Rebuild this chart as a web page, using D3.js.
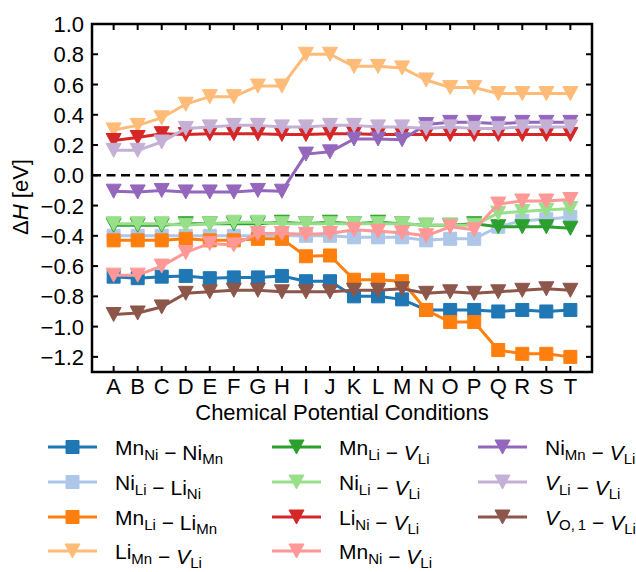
<!DOCTYPE html>
<html>
<head>
<meta charset="utf-8">
<script src="https://cdn.jsdelivr.net/npm/d3@7"></script>
<style>
  body { margin: 0; background: #fff; }
  text { font-family: "Liberation Sans", Arial, sans-serif; fill: #000; }
</style>
</head>
<body>
<script>
// conditions along the x axis
var conditions = 'ABCDEFGHIJKLMNOPQRST'.split('');
var yTicks = [1.0, 0.8, 0.6, 0.4, 0.2, 0.0, -0.2, -0.4, -0.6, -0.8, -1.0, -1.2];

// defect pair energies (eV), one per condition
var mnNi_niMn = [-0.67, -0.68, -0.67, -0.665, -0.68, -0.675, -0.675, -0.665, -0.70, -0.70, -0.80, -0.80, -0.82, -0.89, -0.89, -0.89, -0.90, -0.89, -0.90, -0.89];
var niLi_liNi = [-0.40, -0.40, -0.40, -0.40, -0.40, -0.40, -0.40, -0.40, -0.40, -0.40, -0.41, -0.41, -0.41, -0.43, -0.42, -0.42, -0.34, -0.30, -0.29, -0.275];
var mnLi_liMn = [-0.43, -0.43, -0.43, -0.42, -0.43, -0.43, -0.42, -0.42, -0.535, -0.53, -0.69, -0.69, -0.70, -0.89, -0.97, -0.97, -1.155, -1.18, -1.18, -1.20];
var liMn_vLi = [0.30, 0.33, 0.38, 0.47, 0.52, 0.52, 0.59, 0.59, 0.80, 0.80, 0.72, 0.72, 0.71, 0.63, 0.58, 0.58, 0.54, 0.54, 0.54, 0.54];
var mnLi_vLi = [-0.33, -0.33, -0.33, -0.32, -0.32, -0.32, -0.32, -0.31, -0.32, -0.31, -0.32, -0.31, -0.32, -0.33, -0.33, -0.32, -0.34, -0.34, -0.34, -0.35];
var niLi_vLi = [-0.32, -0.32, -0.32, -0.33, -0.32, -0.31, -0.31, -0.32, -0.32, -0.32, -0.32, -0.32, -0.32, -0.33, -0.33, -0.33, -0.25, -0.24, -0.23, -0.22];
var liNi_vLi = [0.23, 0.25, 0.275, 0.27, 0.275, 0.275, 0.275, 0.27, 0.27, 0.275, 0.275, 0.27, 0.27, 0.27, 0.27, 0.27, 0.27, 0.27, 0.27, 0.27];
var mnNi_vLi = [-0.66, -0.66, -0.60, -0.51, -0.45, -0.46, -0.385, -0.385, -0.39, -0.385, -0.36, -0.37, -0.38, -0.40, -0.34, -0.36, -0.19, -0.17, -0.17, -0.16];
var niMn_vLi = [-0.105, -0.11, -0.10, -0.11, -0.11, -0.11, -0.10, -0.105, 0.14, 0.155, 0.24, 0.24, 0.235, 0.335, 0.35, 0.35, 0.34, 0.35, 0.35, 0.35];
var vLi_vLi = [0.165, 0.165, 0.22, 0.31, 0.32, 0.33, 0.33, 0.32, 0.32, 0.33, 0.33, 0.32, 0.32, 0.31, 0.32, 0.31, 0.31, 0.32, 0.32, 0.32];
var vO1_vLi = [-0.92, -0.91, -0.87, -0.78, -0.77, -0.76, -0.76, -0.77, -0.77, -0.77, -0.76, -0.76, -0.75, -0.78, -0.77, -0.78, -0.77, -0.76, -0.75, -0.76];

// legend labels: [base, subscript, italic]
var labels = [
  [['Mn', 'Ni'], ['Ni', 'Mn']],
  [['Ni', 'Li'], ['Li', 'Ni']],
  [['Mn', 'Li'], ['Li', 'Mn']],
  [['Li', 'Mn'], ['V', 'Li', 1]],
  [['Mn', 'Li'], ['V', 'Li', 1]],
  [['Ni', 'Li'], ['V', 'Li', 1]],
  [['Li', 'Ni'], ['V', 'Li', 1]],
  [['Mn', 'Ni'], ['V', 'Li', 1]],
  [['Ni', 'Mn'], ['V', 'Li', 1]],
  [['V', 'Li', 1], ['V', 'Li', 1]],
  [['V', 'O,\u20091', 1], ['V', 'Li', 1]]
];
var values = [mnNi_niMn, niLi_liNi, mnLi_liMn, liMn_vLi, mnLi_vLi, niLi_vLi, liNi_vLi, mnNi_vLi, niMn_vLi, vLi_vLi, vO1_vLi];
var colors = ['#1f77b4', '#aec7e8', '#ff7f0e', '#ffbb78', '#2ca02c', '#98df8a', '#d62728', '#ff9896', '#9467bd', '#c5b0d5', '#8c564b'];
var markers = ['s', 's', 's', 'v', 'v', 'v', 'v', 'v', 'v', 'v', 'v'];

var W = 636, H = 572, fs = '22px';
var x = d3.scaleLinear().domain([-0.9, 19.9]).range([92, 592]);
var y = d3.scaleLinear().domain([-1.3, 1.0]).range([372, 24]);

var svg = d3.select('body').append('svg').attr('width', W).attr('height', H);

function markerPath(m) {
  if (m === 's') return 'M-6.5,-6.5H6.5V6.5H-6.5Z';
  return 'M-7.5,-7L7.5,-7L0,7Z';
}

// zero line
svg.append('line').attr('x1', x(-0.9)).attr('x2', x(19.9)).attr('y1', y(0)).attr('y2', y(0))
  .style('stroke', '#000').style('stroke-width', 2.5).style('stroke-dasharray', '9,5.5');

var line = d3.line().x(function(d, i) { return x(i); }).y(function(d) { return y(d); });

values.forEach(function(v, k) {
  var g = svg.append('g');
  g.append('path').attr('d', line(v)).style('fill', 'none').style('stroke', colors[k]).style('stroke-width', 3).style('stroke-linejoin', 'round');
  g.selectAll('path.m').data(v).enter().append('path').attr('class', 'm')
    .attr('d', markerPath(markers[k]))
    .attr('transform', function(d, i) { return 'translate(' + x(i) + ',' + y(d) + ')'; })
    .style('fill', colors[k]).style('stroke', colors[k]).style('stroke-width', 1);
});

// frame and inward ticks on all sides
var tl = 6;
var ax = svg.append('g').style('stroke', '#000');
conditions.forEach(function(c, i) {
  ax.append('line').attr('x1', x(i)).attr('x2', x(i)).attr('y1', 372).attr('y2', 372 - tl).style('stroke-width', 2);
  ax.append('line').attr('x1', x(i)).attr('x2', x(i)).attr('y1', 24).attr('y2', 24 + tl).style('stroke-width', 2);
});
yTicks.forEach(function(t) {
  ax.append('line').attr('x1', 92).attr('x2', 92 + tl).attr('y1', y(t)).attr('y2', y(t)).style('stroke-width', 2);
  ax.append('line').attr('x1', 592).attr('x2', 592 - tl).attr('y1', y(t)).attr('y2', y(t)).style('stroke-width', 2);
});
ax.append('rect').attr('x', 92).attr('y', 24).attr('width', 500).attr('height', 348)
  .style('fill', 'none').style('stroke-width', 2.5);

svg.selectAll('text.xt').data(conditions).enter().append('text').attr('class', 'xt')
  .attr('x', function(d, i) { return x(i); }).attr('y', 394)
  .attr('text-anchor', 'middle').style('font-size', fs).text(function(d) { return d; });

svg.selectAll('text.yt').data(yTicks).enter().append('text').attr('class', 'yt')
  .attr('x', 84).attr('y', function(d) { return y(d) + 8; })
  .attr('text-anchor', 'end').style('font-size', fs)
  .text(function(d) { return d3.format('.1f')(d).replace('-', '\u2212'); });

svg.append('text').attr('x', 342).attr('y', 420).attr('text-anchor', 'middle').style('font-size', fs)
  .text('Chemical Potential Conditions');

var yl = svg.append('text').attr('transform', 'translate(28,197) rotate(-90)').attr('text-anchor', 'middle').style('font-size', fs);
yl.append('tspan').text('\u0394');
yl.append('tspan').style('font-style', 'italic').text('H');
yl.append('tspan').text(' [eV]');

// legend, filled column by column
var colX = [48, 272, 478];
var rowY = [447, 482, 517, 551];
var perCol = [4, 4, 3];
var k = 0;
perCol.forEach(function(n, c) {
  for (var r = 0; r < n; r++, k++) {
    var g = svg.append('g').attr('transform', 'translate(' + colX[c] + ',' + rowY[r] + ')');
    g.append('line').attr('x1', 0).attr('x2', 49).style('stroke', colors[k]).style('stroke-width', 3);
    g.append('path').attr('d', markerPath(markers[k])).attr('transform', 'translate(24.5,0)')
      .style('fill', colors[k]).style('stroke', colors[k]);
    var t = g.append('text').attr('x', 67).attr('y', 8).style('font-size', '21px');
    labels[k].forEach(function(term, j) {
      if (j > 0) t.append('tspan').text(' \u2212 ');
      t.append('tspan').style('font-style', term[2] ? 'italic' : 'normal').text(term[0]);
      t.append('tspan').attr('dy', 4.5).style('font-size', '15px').text(term[1]);
      t.append('tspan').attr('dy', -4.5).text('');
    });
  }
});
</script>
</body>
</html>
